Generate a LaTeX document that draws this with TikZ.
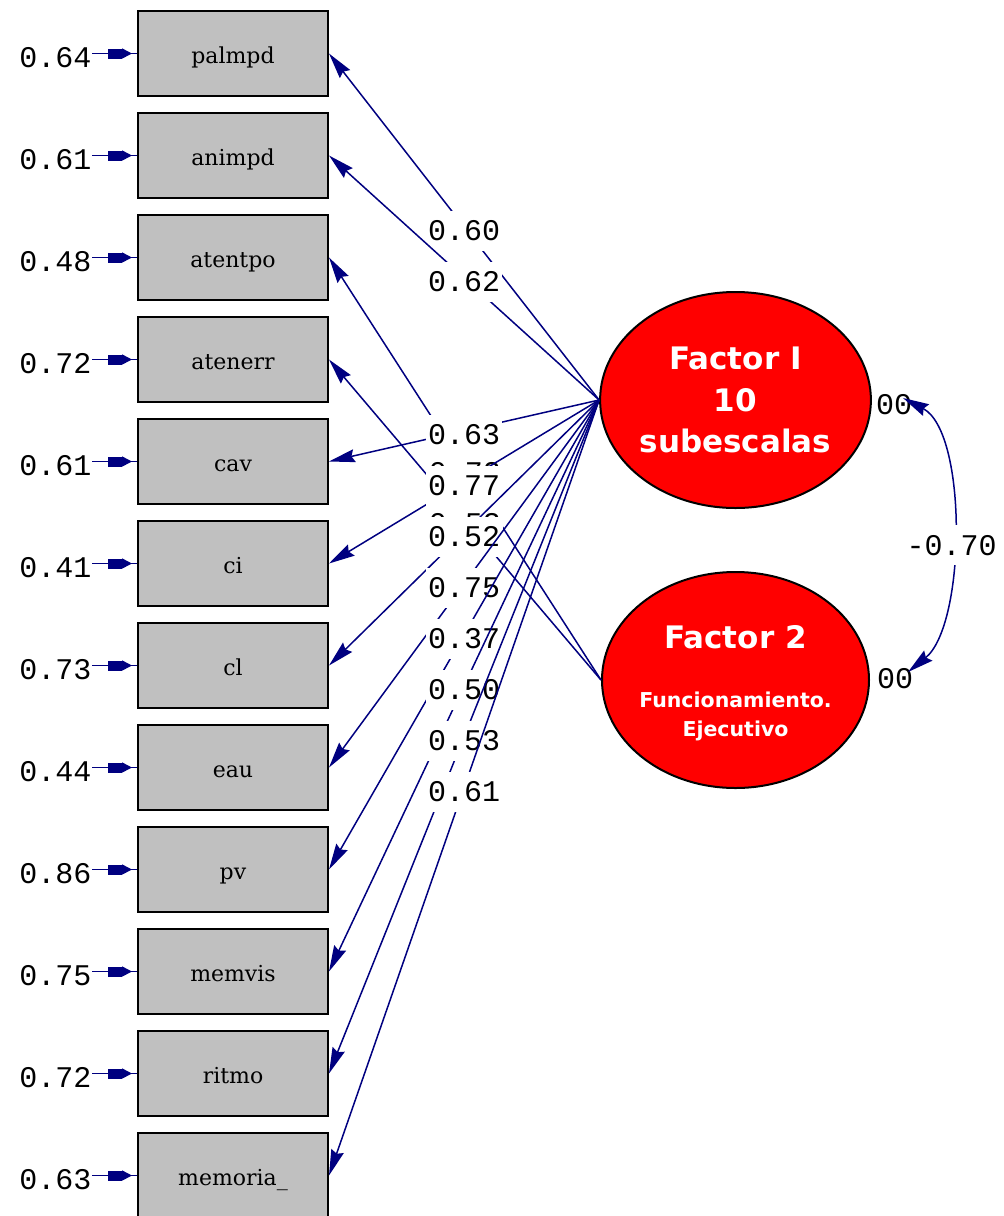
\documentclass[tikz,border=0pt]{standalone}
\usepackage{fontspec}
\setmainfont{DejaVu Serif}
\newfontfamily\numfont{Liberation Mono}
\newfontfamily\facfont{DejaVu Sans}
\usepackage{tikz}
\usetikzlibrary{arrows.meta,calc,decorations.markings,shapes.geometric}
\definecolor{amosblue}{RGB}{0,0,128}
\definecolor{boxgray}{RGB}{192,192,192}
\definecolor{facred}{RGB}{255,0,0}
\tikzset{
  varbox/.style={draw=black, line width=2pt, fill=boxgray, minimum width=190pt,
    minimum height=85pt, inner sep=0pt, text height=20pt, text depth=0pt,
    font=\fontsize{22}{22}\selectfont},
  errlab/.style={anchor=east, inner sep=0.5pt, font=\numfont\fontsize{30}{30}\selectfont},
  varlab/.style={inner sep=0pt, font=\numfont\fontsize{30}{30}\selectfont},
  errline/.style={amosblue, line width=1.6pt, postaction={decorate},
    decoration={markings, mark=at position 40pt with
      {\arrow{Rectangle[length=14pt,width=10pt]Triangle[length=10pt,width=10pt]}}}},
  loading/.style={amosblue, line width=1.5pt, -{Stealth[length=26pt,width=13pt,inset=3pt]}},
  loadlab/.style={fill=white, text=black, inner xsep=2pt, inner ysep=10pt, yshift=-4pt,
    font=\numfont\fontsize{30}{30}\selectfont},
  factor/.style={ellipse, draw=black, line width=2pt, fill=facred,
    minimum width=267pt, minimum height=216pt, inner sep=0pt},
  factxt/.style={text=white, align=center, font=\facfont\bfseries\fontsize{31}{41.5}\selectfont},
  subtxt/.style={text=white, font=\facfont\bfseries\fontsize{20.5}{29}\selectfont},
  covarc/.style={amosblue, line width=1.5pt,
    {Stealth[length=26pt,width=13pt,inset=3pt]}-{Stealth[length=26pt,width=13pt,inset=3pt]}}
}
\begin{document}
\begin{tikzpicture}[x=1pt,y=-1pt]
  \path[use as bounding box, fill=white] (0,0) rectangle (1004,1216);
  % observed variables with their error terms
  \foreach \i/\name/\err in {1/palmpd/0.64, 2/animpd/0.61, 3/atentpo/0.48, 4/atenerr/0.72,
      5/cav/0.61, 6/ci/0.41, 7/cl/0.73, 8/eau/0.44, 9/pv/0.86, 10/memvis/0.75,
      11/ritmo/0.72, 12/memoria\_/0.63}{
    \node[varbox] (b\i) at (233,{53.5+102*(\i-1)}) {\name};
    \node[errlab] (e\i) at ($(b\i.west)+(-45,4)$) {\err};
    \draw[errline] (e\i.east |- b\i.west) -- (b\i.west);
  }
  % factors
  \node[factor, factxt] (f1) at (735.5,400) {Factor I\\10\\subescalas};
  \node[factor] (f2) at (735.5,680) {};
  \node[factxt, anchor=base] (f2a) at ($(f2)+(0,-32)$) {Factor 2};
  \node[subtxt, anchor=base] (f2b) at ($(f2)+(0,27)$) {Funcionamiento.};
  \node[subtxt, anchor=base] (f2c) at ($(f2)+(0,56)$) {Ejecutivo};
  % loadings
  \foreach \i/\fac/\load in {1/f1/0.60, 2/f1/0.62, 3/f2/0.72, 4/f2/0.53, 5/f1/0.63,
      6/f1/0.77, 7/f1/0.52, 8/f1/0.75, 9/f1/0.37, 10/f1/0.50, 11/f1/0.53, 12/f1/0.61}
    \draw[loading] (\fac.west) -- node[loadlab] {\load} (b\i.east);
  % covariance
  \node[varlab] (v1) at (894,405) {00};
  \node[varlab] (v2) at (895,679) {00};
  \coordinate (c1) at (903,398);
  \coordinate (c2) at (908,672);
  \draw[covarc] (c1) .. controls (968,432) and (966,625) .. node[loadlab, pos=0.5, yshift=-11pt] (r12) {-0.70} (c2);
\end{tikzpicture}
\end{document}
